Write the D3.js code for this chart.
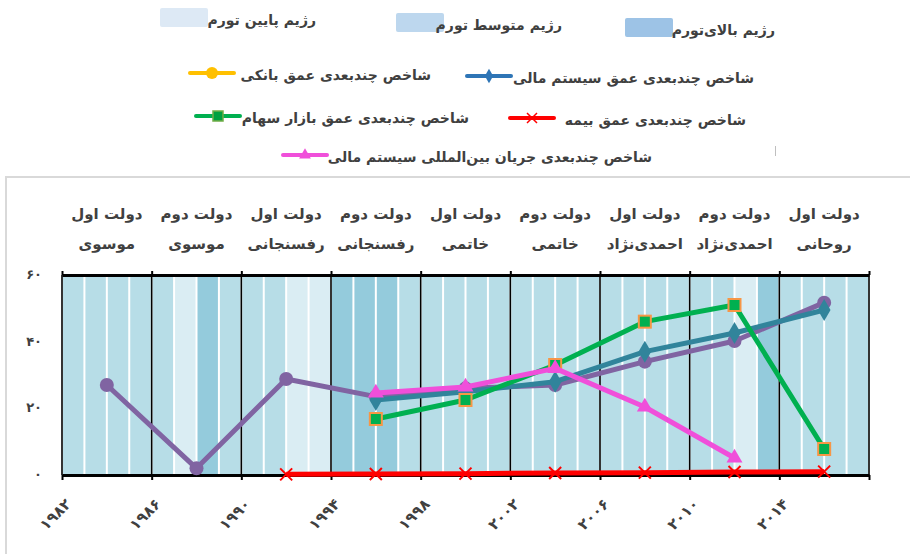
<!DOCTYPE html>
<html>
<head>
<meta charset="utf-8">
<script src="https://cdn.jsdelivr.net/npm/d3@7"></script>
<style>
  body { margin: 0; background: #fff; }
  text { font-family: "DejaVu Sans", sans-serif; fill: #404040; }
</style>
</head>
<body>
<svg id="chart" width="910" height="554"></svg>
<script>
// years for the inflation stripes and the regime of each one (L=low, M=medium, H=high)
const years = d3.range(1982, 2018);
const regimes = ["M","M","M","M","M","L","H","M","M","M","L","L",
                 "H","H","H","M","M","M","M","M","M","M","M","M",
                 "M","M","M","M","M","M","L","H","M","M","M","M"];

// government terms (centre year of each 4 year block)
const termYears = [1984, 1988, 1992, 1996, 2000, 2004, 2008, 2012, 2016];
const termNames = ["دولت اول","دولت دوم","دولت اول","دولت دوم","دولت اول","دولت دوم","دولت اول","دولت دوم","دولت اول"];
const presidents = ["موسوی","موسوی","رفسنجانی","رفسنجانی","خاتمی","خاتمی","احمدی‌نژاد","احمدی‌نژاد","روحانی"];

const tickYears = [1982, 1986, 1990, 1994, 1998, 2002, 2006, 2010, 2014, 2018];
const yTicks = [0, 20, 40, 60];

// series values (null = no data)
const bankDepth    = [27, 2, 28.8, 23.5, 26, 27, 34, 40.2, 51.7];
const financeDepth = [null, null, null, 22.5, 25, 28, 37, 42.6, 49.5];
const stockDepth   = [null, null, null, 16.8, 22.5, 33, 46, 51, 7.8];
const insureDepth  = [null, null, 0.2, 0.3, 0.4, 0.6, 0.7, 0.9, 1.0];
const intlFlow     = [null, null, null, 24.6, 26.4, 32, 20.4, 5.1, null];

const faDigits = "۰۱۲۳۴۵۶۷۸۹";
function fa(n) {
    return String(n).replace(/[0-9]/g, d => faDigits[+d]);
}

const svg = d3.select("#chart");

// outer frame
svg.append("rect")
    .attr("x", 6).attr("y", 177)
    .attr("width", 920).attr("height", 400)
    .attr("fill", "none")
    .attr("stroke", "#d9d9d9")
    .attr("stroke-width", 2);

const x = d3.scaleLinear().domain([1982, 2018]).range([62, 869]);
const y = d3.scaleLinear().domain([0, 60]).range([475, 275]);

const stripeColor = {L: "#daedf3", M: "#b7dde7", H: "#94cbdc"};

// yearly stripes
svg.append("g")
    .selectAll("rect")
    .data(years)
    .enter()
    .append("rect")
    .attr("x", d => x(d) + 1)
    .attr("y", y(60))
    .attr("width", d => x(d + 1) - x(d) - 2)
    .attr("height", y(0) - y(60))
    .attr("fill", (d, i) => stripeColor[regimes[i]]);

// block separators
svg.append("g")
    .selectAll("line")
    .data(tickYears)
    .enter()
    .append("line")
    .attr("x1", d => x(d)).attr("x2", d => x(d))
    .attr("y1", y(60)).attr("y2", y(0))
    .attr("stroke", "#000")
    .attr("stroke-width", 1.6);

// top and bottom axes
const xAxisBottom = d3.axisBottom(x)
    .tickValues(tickYears)
    .tickSize(5)
    .tickSizeOuter(0)
    .tickFormat("");
const gb = svg.append("g")
    .attr("transform", "translate(0," + y(0) + ")")
    .call(xAxisBottom);
const gt = svg.append("g")
    .attr("transform", "translate(0," + y(60) + ")")
    .call(d3.axisTop(x).tickValues(tickYears).tickSize(4).tickSizeOuter(0).tickFormat(""));
[gb, gt].forEach(g => {
    g.select(".domain").attr("stroke", "#000").attr("stroke-width", 3);
    g.selectAll(".tick line").attr("stroke", "#000").attr("stroke-width", 2);
});

// rotated year labels
svg.append("g")
    .selectAll("text")
    .data(tickYears.slice(0, -1))
    .enter()
    .append("text")
    .attr("transform", d => "translate(" + (x(d) + 10) + ",505) rotate(-45)")
    .attr("text-anchor", "end")
    .attr("font-size", 15)
    .attr("font-weight", "bold")
    .text(d => fa(d));

// y labels
svg.append("g")
    .selectAll("text")
    .data(yTicks)
    .enter()
    .append("text")
    .attr("x", 42)
    .attr("y", d => y(d) + 4)
    .attr("text-anchor", "end")
    .attr("font-size", 13)
    .attr("font-weight", "bold")
    .text(d => fa(d));

// government labels
const gov = svg.append("g");
gov.selectAll(".term")
    .data(termYears)
    .enter()
    .append("text")
    .attr("x", d => x(d))
    .attr("y", 219)
    .attr("text-anchor", "middle")
    .attr("font-size", 15)
    .attr("font-weight", "bold")
    .text((d, i) => termNames[i]);
gov.selectAll(".pres")
    .data(termYears)
    .enter()
    .append("text")
    .attr("x", d => x(d))
    .attr("y", 249)
    .attr("text-anchor", "middle")
    .attr("font-size", 15)
    .attr("font-weight", "bold")
    .text((d, i) => presidents[i]);

// series
function toPoints(vals) {
    return vals.map((v, i) => ({year: termYears[i], v: v})).filter(d => d.v !== null);
}
const line = d3.line().x(d => x(d.year)).y(d => y(d.v));

function drawSeries(vals, color, width, marker) {
    const pts = toPoints(vals);
    const g = svg.append("g");
    g.append("path")
        .datum(pts)
        .attr("d", line)
        .attr("fill", "none")
        .attr("stroke", color)
        .attr("stroke-width", width)
        .attr("stroke-linejoin", "round");
    g.selectAll("g")
        .data(pts)
        .enter()
        .append("g")
        .attr("transform", d => "translate(" + x(d.year) + "," + y(d.v) + ")")
        .each(function () { marker(d3.select(this)); });
}

drawSeries(bankDepth, "#8064a2", 5, m => m.append("circle").attr("r", 7).attr("fill", "#8064a2"));
drawSeries(financeDepth, "#31849b", 5, m => m.append("path")
    .attr("d", d3.symbol(d3.symbolDiamond, 140)).attr("fill", "#31849b"));
drawSeries(stockDepth, "#00b050", 5, m => m.append("rect")
    .attr("x", -6).attr("y", -6).attr("width", 12).attr("height", 12)
    .attr("fill", "#00b050").attr("stroke", "#f79646").attr("stroke-width", 2));
drawSeries(intlFlow, "#f04fda", 5, m => m.append("path")
    .attr("d", d3.symbol(d3.symbolTriangle, 110)).attr("fill", "#f04fda"));
drawSeries(insureDepth, "#ff0000", 5, m => m.append("path")
    .attr("d", "M-6,-6L6,6M-6,6L6,-6").attr("stroke", "#ff0000").attr("stroke-width", 2));

// legend: inflation regimes
const regimeLegend = [
    {label: "رژیم پایین تورم", color: "#dde9f5", bx: 160, by: 8, tx: 316, ty: 25},
    {label: "رژیم متوسط تورم", color: "#bdd7ee", bx: 396, by: 13, tx: 562, ty: 30},
    {label: "رژیم بالای‌تورم", color: "#9dc3e6", bx: 625, by: 18, tx: 775, ty: 35}
];
const lg = svg.append("g");
regimeLegend.forEach(d => {
    lg.append("rect")
        .attr("x", d.bx).attr("y", d.by)
        .attr("width", 48).attr("height", 19)
        .attr("rx", 2)
        .attr("fill", d.color);
    lg.append("text")
        .attr("x", d.tx).attr("y", d.ty)
        .attr("text-anchor", "end")
        .attr("font-size", 14)
        .attr("font-weight", "bold")
        .text(d.label);
});

// legend: series
const seriesLegend = [
    {label: "شاخص چندبعدی عمق بانکی", color: "#ffc000", lx: 190, ly: 73, tx: 431, ty: 80, mk: "circle"},
    {label: "شاخص چندبعدی عمق سیستم مالی", color: "#2e75b6", lx: 467, ly: 76, tx: 754, ty: 83, mk: "diamond"},
    {label: "شاخص چندبعدی عمق بازار سهام", color: "#00b050", lx: 196, ly: 116, tx: 469, ty: 123, mk: "square"},
    {label: "شاخص چندبعدی عمق بیمه", color: "#ff0000", lx: 510, ly: 118, tx: 746, ty: 125, mk: "x"},
    {label: "شاخص چندبعدی جریان بین‌المللی سیستم مالی", color: "#f04fda", lx: 283, ly: 155, tx: 652, ty: 162, mk: "triangle"}
];
seriesLegend.forEach(d => {
    lg.append("line")
        .attr("x1", d.lx).attr("x2", d.lx + 44)
        .attr("y1", d.ly).attr("y2", d.ly)
        .attr("stroke", d.color)
        .attr("stroke-width", 4)
        .attr("stroke-linecap", "round");
    const m = lg.append("g").attr("transform", "translate(" + (d.lx + 22) + "," + d.ly + ")");
    if (d.mk == "circle") {
        m.append("circle").attr("r", 6).attr("fill", d.color);
    } else if (d.mk == "diamond") {
        m.append("path").attr("d", d3.symbol(d3.symbolDiamond, 60)).attr("fill", d.color);
    } else if (d.mk == "square") {
        m.append("rect").attr("x", -5).attr("y", -5).attr("width", 10).attr("height", 10)
            .attr("fill", "#00a040").attr("stroke", "#70ad47").attr("stroke-width", 1.5);
    } else if (d.mk == "x") {
        m.append("path").attr("d", "M-5,-5L5,5M-5,5L5,-5").attr("stroke", d.color).attr("stroke-width", 1.5);
    } else {
        m.append("path").attr("d", d3.symbol(d3.symbolTriangle, 60)).attr("fill", d.color);
    }
    lg.append("text")
        .attr("x", d.tx).attr("y", d.ty)
        .attr("text-anchor", "end")
        .attr("font-size", 14)
        .attr("font-weight", "bold")
        .text(d.label);
});

// small stray mark next to the legend
lg.append("line")
    .attr("x1", 775.5).attr("x2", 775.5)
    .attr("y1", 146).attr("y2", 156)
    .attr("stroke", "#bfbfbf");
</script>
</body>
</html>
